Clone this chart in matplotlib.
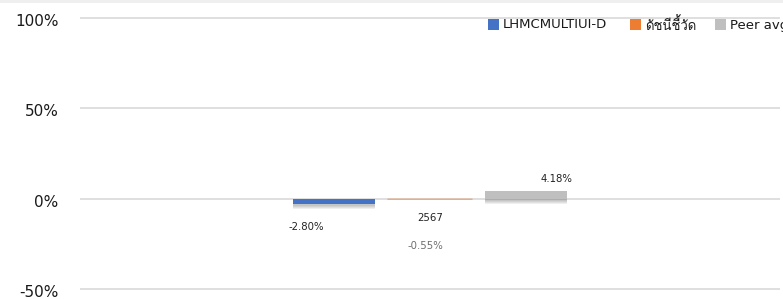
import matplotlib
matplotlib.use("Agg")
import matplotlib.pyplot as plt
import matplotlib.patheffects as pe
from matplotlib import font_manager
from matplotlib.ft2font import FT2Font
from matplotlib.patches import Rectangle
from matplotlib.transforms import ScaledTranslation

# ---- data ----
series_names = ["LHMCMULTIUI-D", "ดัชนีชี้วัด", "Peer avg"]
series_values = [-2.80, -0.55, 4.18]
series_colors = ["#4472C4", "#ED7D31", "#BFBFBF"]
value_labels = ["-2.80%", "-0.55%", "4.18%"]
category_label = "2567"
y_ticks = [-50, 0, 50, 100]
y_tick_labels = ["-50%", "0%", "50%", "100%"]

# ---- find a font with Thai glyphs ----
thai_family = None
for f in font_manager.fontManager.ttflist:
    try:
        if 0x0E14 in FT2Font(f.fname).get_charmap():
            thai_family = f.name
            break
    except Exception:
        pass
fam = ["DejaVu Sans"] + ([thai_family] if thai_family else [])
plt.rcParams["font.family"] = fam

W, H = 783, 299
fig = plt.figure(figsize=(W / 100, H / 100), dpi=100)

# light band at top
fig.add_artist(Rectangle((0, 1 - 3 / H), 1, 3 / H, transform=fig.transFigure,
                         facecolor="#efefef", edgecolor="none"))

ppu = (289 - 18) / 150.0
ymin, ymax = -52, 102
top_px = 18 - (ymax - 100) * ppu
bot_px = 289 + (-50 - ymin) * ppu
ax = fig.add_axes([80 / W, 1 - bot_px / H, 700 / W, (bot_px - top_px) / H])
ax.set_ylim(ymin, ymax)
ax.set_xlim(-0.5, 0.5)

for s in ax.spines.values():
    s.set_visible(False)
ax.set_xticks([])
ax.set_yticks(y_ticks)
ax.set_yticklabels(y_tick_labels, fontsize=11, color="#1a1a1a")
ax.tick_params(axis="y", length=0, pad=15.5)
for lbl in ax.get_yticklabels():
    lbl.set_transform(lbl.get_transform() + ScaledTranslation(0, -2 / 100, fig.dpi_scale_trans))
ax.yaxis.grid(True, color="#d9d9d9", linewidth=1.2)
ax.set_axisbelow(True)

bw = 85 / 700
step = 96 / 700
offsets = [-step, 0, step]
shadow = [pe.SimplePatchShadow(offset=(0, -o), shadow_rgbFace="#333333", alpha=0.08)
          for o in (1.5, 2.3, 3.1, 3.9)]
for i, (v, c) in enumerate(zip(series_values, series_colors)):
    if abs(v) > 1:
        ax.bar(offsets[i], v, width=bw * 0.97, color=c, zorder=3, linewidth=0,
               path_effects=shadow + [pe.Normal()])
    else:
        ax.bar(offsets[i], v, width=bw, color=c, zorder=3, linewidth=0,
               snap=False, alpha=0.75)

# value labels
ax.text(offsets[0] - 28 / 700, series_values[0] - 23 / ppu, value_labels[0],
        ha="center", va="center", fontsize=7.3, color="#222222")
ax.text(offsets[1] - 5 / 700, series_values[1] - 46 / ppu, value_labels[1],
        ha="center", va="center", fontsize=7.3, color="#6e6e6e")
ax.text(offsets[2] + 30 / 700, series_values[2] + 12 / ppu, value_labels[2],
        ha="center", va="center", fontsize=7.3, color="#222222")
ax.text(0, -19.5 / ppu, category_label, ha="center", va="center",
        fontsize=7.3, color="#222222")

# legend (manual)
leg_x = [488, 630, 715]
for name, c, x in zip(series_names, series_colors, leg_x):
    fig.add_artist(Rectangle((x / W, 1 - 30 / H), 11 / W, 11 / H,
                             transform=fig.transFigure, facecolor=c, edgecolor="none"))
    fig.text((x + 15) / W, 1 - 25 / H, name, ha="left", va="center",
             fontsize=9.5, color="#1a1a1a", family=fam)

fig.savefig("out.png", dpi=100)
